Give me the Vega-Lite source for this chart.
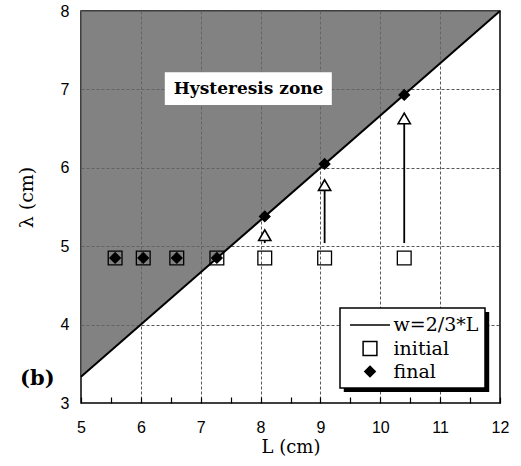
{
  "$schema": "https://vega.github.io/schema/vega-lite/v6.json",
  "width": 419,
  "height": 392,
  "autosize": {"type": "none"},
  "padding": {"left": 81, "top": 11, "right": 21, "bottom": 63},
  "background": "white",
  "config": {
    "view": {"stroke": "black", "strokeWidth": 1.5},
    "axis": {
      "labelFont": "Liberation Sans",
      "labelFontSize": 16,
      "labelColor": "black",
      "labelFlush": false,
      "titleFont": "DejaVu Serif",
      "titleFontWeight": "normal",
      "titleColor": "black",
      "domain": false,
      "gridColor": "#444444",
      "gridDash": [3, 2],
      "gridWidth": 0.9,
      "tickColor": "black",
      "tickWidth": 1.2
    },
    "legend": {
      "orient": "none",
      "legendX": 259,
      "legendY": 297,
      "title": null,
      "strokeColor": "black",
      "strokeWidth": 1.5,
      "fillColor": "white",
      "padding": 6,
      "labelFont": "DejaVu Serif",
      "labelFontSize": 19,
      "labelColor": "black",
      "labelOffset": 12.5,
      "symbolOffset": 13,
      "rowPadding": 3,
      "symbolStrokeWidth": 1.5
    }
  },
  "datasets": {
    "boundary": [
      {"L": 5, "w": 3.3333, "top": 8},
      {"L": 12, "w": 8, "top": 8}
    ],
    "runs": [
      {"series": "initial", "L": 5.57, "lambda": 4.85},
      {"series": "initial", "L": 6.04, "lambda": 4.85},
      {"series": "initial", "L": 6.6, "lambda": 4.85},
      {"series": "initial", "L": 7.27, "lambda": 4.85},
      {"series": "initial", "L": 8.07, "lambda": 4.85},
      {"series": "initial", "L": 9.07, "lambda": 4.85},
      {"series": "initial", "L": 10.4, "lambda": 4.85},
      {"series": "final", "L": 5.57, "lambda": 4.85},
      {"series": "final", "L": 6.04, "lambda": 4.85},
      {"series": "final", "L": 6.6, "lambda": 4.85},
      {"series": "final", "L": 7.27, "lambda": 4.85},
      {"series": "final", "L": 8.07, "lambda": 5.38},
      {"series": "final", "L": 9.07, "lambda": 6.05},
      {"series": "final", "L": 10.4, "lambda": 6.93}
    ],
    "shifts": [
      {"L": 8.07, "from": 5.04, "to": 5.14},
      {"L": 9.07, "from": 5.04, "to": 5.78},
      {"L": 10.4, "from": 5.04, "to": 6.63}
    ],
    "zone": [
      {"label": "Hysteresis zone", "x0": 6.4, "x1": 9.19, "y0": 6.8, "y1": 7.22, "xc": 7.8, "yc": 7.01}
    ],
    "panel": [
      {"label": "(b)", "L": 4.27, "lambda": 3.3}
    ],
    "legendShadow": [
      {"x0": 9.39, "x1": 11.82, "y0": 3.14, "y1": 4.16}
    ]
  },
  "layer": [
    {
      "data": {"name": "boundary"},
      "mark": {"type": "area", "fill": "#666666", "fillOpacity": 0.82},
      "encoding": {
        "x": {
          "field": "L", "type": "quantitative",
          "scale": {"domain": [5, 12], "nice": false, "zero": false},
          "axis": {
            "values": [5, 5.5, 6, 6.5, 7, 7.5, 8, 8.5, 9, 9.5, 10, 10.5, 11, 11.5, 12],
            "labelExpr": "datum.value % 1 ? '' : format(datum.value, 'd')",
            "grid": true,
            "gridOpacity": {"condition": {"test": "datum.value % 1", "value": 0}, "value": 1},
            "ticks": true, "tickSize": -6,
            "labelPadding": 22,
            "title": "L (cm)", "titleFontSize": 18, "titlePadding": 3
          }
        },
        "y": {
          "field": "w", "type": "quantitative",
          "scale": {"domain": [3, 8], "nice": false, "zero": false},
          "axis": {
            "values": [3, 4, 5, 6, 7, 8],
            "grid": true, "ticks": false,
            "labelPadding": 12,
            "title": "λ (cm)", "titleFontSize": 19, "titlePadding": 24, "titleY": 186
          }
        },
        "y2": {"field": "top"}
      }
    },
    {
      "data": {"name": "zone"},
      "mark": {"type": "rect", "fill": "white"},
      "encoding": {
        "x": {"field": "x0", "type": "quantitative", "axis": null},
        "x2": {"field": "x1"},
        "y": {"field": "y0", "type": "quantitative", "axis": null},
        "y2": {"field": "y1"}
      }
    },
    {
      "data": {"name": "zone"},
      "mark": {"type": "text", "font": "DejaVu Serif", "fontWeight": "bold", "fontSize": 17, "color": "black"},
      "encoding": {
        "x": {"field": "xc", "type": "quantitative", "axis": null},
        "y": {"field": "yc", "type": "quantitative", "axis": null},
        "text": {"field": "label"}
      }
    },
    {
      "data": {"name": "boundary"},
      "mark": {"type": "line", "color": "black", "strokeWidth": 2},
      "encoding": {
        "x": {"field": "L", "type": "quantitative", "axis": null},
        "y": {"field": "w", "type": "quantitative", "axis": null}
      }
    },
    {
      "data": {"name": "shifts"},
      "mark": {"type": "rule", "color": "black", "strokeWidth": 1.8},
      "encoding": {
        "x": {"field": "L", "type": "quantitative", "axis": null},
        "y": {"field": "from", "type": "quantitative", "axis": null},
        "y2": {"field": "to"}
      }
    },
    {
      "data": {"name": "shifts"},
      "mark": {"type": "point", "shape": "triangle-up", "filled": true, "fill": "white", "stroke": "black", "strokeWidth": 1.6, "size": 150, "opacity": 1},
      "encoding": {
        "x": {"field": "L", "type": "quantitative", "axis": null},
        "y": {"field": "to", "type": "quantitative", "axis": null}
      }
    },
    {
      "data": {"name": "legendShadow"},
      "mark": {"type": "rect", "fill": "black"},
      "encoding": {
        "x": {"field": "x0", "type": "quantitative", "axis": null},
        "x2": {"field": "x1"},
        "y": {"field": "y0", "type": "quantitative", "axis": null},
        "y2": {"field": "y1"}
      }
    },
    {
      "data": {"name": "runs"},
      "mark": {"type": "point", "filled": true, "stroke": "black", "strokeWidth": 1.3, "opacity": 1},
      "encoding": {
        "x": {"field": "L", "type": "quantitative", "axis": null},
        "y": {"field": "lambda", "type": "quantitative", "axis": null},
        "shape": {
          "field": "series", "type": "nominal",
          "scale": {"domain": ["w=2/3*L", "initial", "final"], "range": ["M-2,0H2", "square", "diamond"]}
        },
        "fill": {
          "field": "series", "type": "nominal",
          "scale": {"domain": ["w=2/3*L", "initial", "final"], "range": ["transparent", "transparent", "black"]}
        },
        "size": {
          "field": "series", "type": "nominal",
          "scale": {"type": "ordinal", "domain": ["w=2/3*L", "initial", "final"], "range": [400, 190, 110]}
        }
      }
    },
    {
      "data": {"name": "panel"},
      "mark": {"type": "text", "font": "DejaVu Serif", "fontWeight": "bold", "fontSize": 21, "color": "black"},
      "encoding": {
        "x": {"field": "L", "type": "quantitative", "axis": null},
        "y": {"field": "lambda", "type": "quantitative", "axis": null},
        "text": {"field": "label"}
      }
    }
  ],
  "resolve": {"axis": {"x": "independent", "y": "independent"}}
}
